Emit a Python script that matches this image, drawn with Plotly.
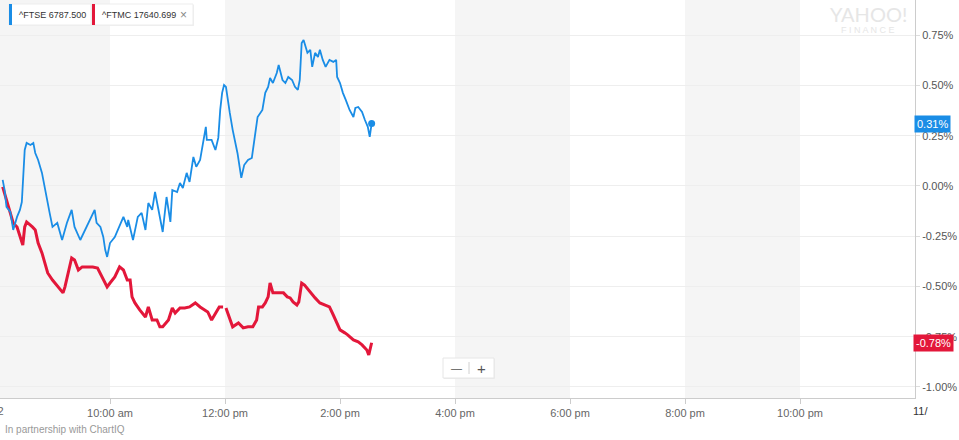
import plotly.graph_objects as go

DAY = "2019-11-22 "

ftse_times = ["08:08","08:10","08:12","08:16","08:19","08:21","08:23","08:26","08:28","08:31",
              "08:33","08:37","08:40","08:42","08:45","08:49","08:54","08:57","09:00","09:05",
              "09:10","09:15","09:20","09:23","09:29","09:34","09:39","09:44","09:46","09:50",
              "09:53","09:55","09:57","10:00","10:05","10:08","10:14","10:18","10:19","10:24",
              "10:29","10:33","10:37","10:40","10:44","10:47","10:50","10:55","10:59","11:03",
              "11:05","11:10","11:13","11:16","11:20","11:23","11:27","11:30","11:34","11:37",
              "11:40","11:41","11:46","11:50","11:53","11:55","11:57","11:59","12:01","12:05",
              "12:08","12:13","12:17","12:20","12:24","12:28","12:31","12:34","12:39","12:42",
              "12:45","12:47","12:50","12:54","12:56","13:00","13:03","13:06","13:10","13:13",
              "13:16","13:18","13:20","13:22","13:26","13:29","13:31","13:34","13:37","13:39",
              "13:42","13:45","13:49","13:53","13:56","13:57","14:00","14:03","14:06","14:10",
              "14:14","14:16","14:19","14:23","14:26","14:29","14:31","14:33"]
ftse_pct = [0.030,-0.020,-0.104,-0.129,-0.219,-0.179,-0.154,-0.119,-0.080,0.179,
            0.214,0.204,0.214,0.164,0.129,0.065,-0.070,-0.134,-0.204,-0.184,
            -0.269,-0.184,-0.119,-0.204,-0.269,-0.219,-0.169,-0.119,-0.184,-0.204,
            -0.254,-0.318,-0.353,-0.284,-0.254,-0.219,-0.154,-0.204,-0.169,-0.269,
            -0.154,-0.134,-0.219,-0.085,-0.119,-0.030,-0.104,-0.229,-0.055,-0.179,
            -0.020,-0.030,0.015,-0.010,0.065,0.020,0.144,0.095,0.129,0.214,
            0.294,0.229,0.229,0.179,0.239,0.378,0.463,0.502,0.493,0.363,
            0.279,0.164,0.040,0.104,0.129,0.139,0.229,0.343,0.378,0.463,
            0.493,0.537,0.512,0.562,0.602,0.527,0.512,0.542,0.527,0.493,
            0.478,0.527,0.711,0.726,0.662,0.677,0.592,0.662,0.642,0.677,
            0.627,0.592,0.627,0.617,0.627,0.542,0.512,0.463,0.428,0.378,
            0.343,0.388,0.393,0.368,0.328,0.294,0.244,0.31]

ftmc_times = ["08:08","08:12","08:16","08:19","08:23","08:26","08:29","08:31","08:33","08:39",
              "08:42","08:45","08:49","08:52","08:55","09:00","09:06","09:11","09:13","09:16",
              "09:20","09:23","09:27","09:31","09:36","09:42","09:47","09:52","09:57","10:00",
              "10:05","10:10","10:14","10:18","10:21","10:23","10:26","10:31","10:37","10:40",
              "10:44","10:49","10:52","10:55","11:01","11:05","11:08","11:13","11:18","11:23",
              "11:29","11:34","11:39","11:42","11:46","11:50","11:54","11:58","12:00","12:01",
              "12:05","12:08","12:14","12:19","12:24","12:29","12:33","12:35","12:39","12:42",
              "12:45","12:47","12:50","12:54","12:57","13:01","13:05","13:08","13:11","13:15",
              "13:17","13:20","13:23","13:27","13:31","13:34","13:39","13:44","13:49","13:53",
              "13:57","14:00","14:05","14:08","14:14","14:19","14:23","14:28","14:30","14:33"]
ftmc_pct = [-0.005,-0.070,-0.134,-0.184,-0.204,-0.254,-0.294,-0.204,-0.179,-0.204,
            -0.219,-0.284,-0.333,-0.383,-0.433,-0.468,-0.502,-0.532,-0.502,-0.433,
            -0.358,-0.368,-0.418,-0.403,-0.403,-0.403,-0.408,-0.453,-0.502,-0.483,
            -0.453,-0.403,-0.418,-0.468,-0.468,-0.552,-0.582,-0.617,-0.652,-0.602,
            -0.667,-0.667,-0.701,-0.701,-0.667,-0.607,-0.632,-0.607,-0.607,-0.602,
            -0.582,-0.602,-0.617,-0.627,-0.667,-0.632,-0.602,-0.602,None,-0.607,
            -0.667,-0.701,-0.682,-0.706,-0.701,-0.701,-0.667,-0.602,-0.602,-0.582,
            -0.552,-0.483,-0.532,-0.532,-0.532,-0.532,-0.552,-0.557,-0.577,-0.592,
            -0.577,-0.483,-0.493,-0.517,-0.542,-0.557,-0.582,-0.592,-0.602,-0.642,
            -0.682,-0.716,-0.731,-0.741,-0.766,-0.776,-0.791,-0.816,-0.841,-0.78]

x_tick_hours = ["10:00","12:00","14:00","16:00","18:00","20:00","22:00"]
x_tick_text = ["10:00 am","12:00 pm","2:00 pm","4:00 pm","6:00 pm","8:00 pm","10:00 pm"]
y_tick_vals = [0.75,0.5,0.25,0.0,-0.25,-0.5,-0.75,-1.0]
shade_bands = [("08:00","10:00"),("12:00","14:00"),("16:00","18:00"),("20:00","22:00")]

BLUE = "#1a8de6"
RED = "#e3173a"
FONT = "Helvetica Neue, Helvetica, Liberation Sans, Arial, sans-serif"

fig = go.Figure()
fig.add_trace(go.Scatter(x=[DAY + t for t in ftmc_times], y=ftmc_pct, mode="lines",
                         line=dict(color=RED, width=3), connectgaps=False, hoverinfo="skip"))
fig.add_trace(go.Scatter(x=[DAY + t for t in ftse_times], y=ftse_pct, mode="lines",
                         line=dict(color=BLUE, width=1.8), hoverinfo="skip"))
fig.add_trace(go.Scatter(x=[DAY + ftse_times[-1]], y=[ftse_pct[-1]], mode="markers",
                         marker=dict(color=BLUE, size=7), hoverinfo="skip"))

shapes = []
for a, b in shade_bands:
    shapes.append(dict(type="rect", xref="x", yref="paper", x0=DAY + a, x1=DAY + b, y0=0, y1=1,
                       fillcolor="#f5f5f5", line=dict(width=0), layer="below"))

W, H = 915.0, 398.0
def px(x): return x / W
def py(y): return (H - y) / H

# legend chips
shapes += [
    dict(type="rect", xref="paper", yref="paper", x0=px(10), x1=px(92), y0=py(26), y1=py(5),
         fillcolor="#efefef", line=dict(width=0)),
    dict(type="rect", xref="paper", yref="paper", x0=px(9), x1=px(91), y0=py(25), y1=py(4),
         fillcolor="white", line=dict(color="#ededed", width=1)),
    dict(type="rect", xref="paper", yref="paper", x0=px(9), x1=px(12), y0=py(25), y1=py(4),
         fillcolor=BLUE, line=dict(width=0)),
    dict(type="rect", xref="paper", yref="paper", x0=px(93), x1=px(194), y0=py(26), y1=py(5),
         fillcolor="#efefef", line=dict(width=0)),
    dict(type="rect", xref="paper", yref="paper", x0=px(92), x1=px(193), y0=py(25), y1=py(4),
         fillcolor="white", line=dict(color="#ededed", width=1)),
    dict(type="rect", xref="paper", yref="paper", x0=px(92), x1=px(95), y0=py(25), y1=py(4),
         fillcolor=RED, line=dict(width=0)),
    # zoom control
    dict(type="rect", xref="paper", yref="paper", x0=px(444), x1=px(495), y0=py(379), y1=py(359),
         fillcolor="#ececec", line=dict(width=0)),
    dict(type="rect", xref="paper", yref="paper", x0=px(443), x1=px(494), y0=py(378), y1=py(358),
         fillcolor="white", line=dict(color="#e6e6e6", width=1)),
    dict(type="line", xref="paper", yref="paper", x0=px(469), x1=px(469), y0=py(374), y1=py(362),
         line=dict(color="#d0d0d0", width=1)),
]

ann = [
    dict(xref="paper", yref="paper", x=px(17), y=py(14.5), text="^FTSE 6787.500", showarrow=False,
         xanchor="left", yanchor="middle", font=dict(size=9, color="#333", family=FONT)),
    dict(xref="paper", yref="paper", x=px(100), y=py(14.5), text="^FTMC 17640.699", showarrow=False,
         xanchor="left", yanchor="middle", font=dict(size=9, color="#333", family=FONT)),
    dict(xref="paper", yref="paper", x=px(183), y=py(14.5), text="×", showarrow=False,
         xanchor="center", yanchor="middle", font=dict(size=12, color="#888", family=FONT)),
    dict(xref="paper", yref="paper", x=px(868), y=py(14), text="YAHOO!", showarrow=False,
         xanchor="center", yanchor="middle", font=dict(size=20, color="#e6e6e6", family="DejaVu Sans ExtraLight, Lato, sans-serif")),
    dict(xref="paper", yref="paper", x=px(868), y=py(30), text="F I N A N C E", showarrow=False,
         xanchor="center", yanchor="middle", font=dict(size=9, color="#e6e6e6", family=FONT)),
    dict(xref="paper", yref="paper", x=px(456), y=py(368), text="—", showarrow=False,
         xanchor="center", yanchor="middle", font=dict(size=11, color="#555", family=FONT)),
    dict(xref="paper", yref="paper", x=px(482), y=py(368), text="+", showarrow=False,
         xanchor="center", yanchor="middle", font=dict(size=15, color="#555", family=FONT)),
    dict(xref="paper", yref="y", x=1, y=ftse_pct[-1], text="0.31%", showarrow=False,
         xanchor="left", yanchor="middle", xshift=-1, bgcolor=BLUE, borderpad=2,
         font=dict(size=11, color="white", family=FONT)),
    dict(xref="paper", yref="y", x=1, y=ftmc_pct[-1], text="-0.78%", showarrow=False,
         xanchor="left", yanchor="middle", xshift=-2, bgcolor=RED, borderpad=2,
         font=dict(size=11, color="white", family=FONT)),
    dict(xref="paper", yref="paper", x=0, y=py(411), text="11/22", showarrow=False,
         xanchor="right", yanchor="middle", xshift=6, font=dict(size=11, color="#666", family=FONT)),
    dict(xref="paper", yref="paper", x=px(911), y=py(411), text="11/", showarrow=False,
         xanchor="left", yanchor="middle", font=dict(size=11, color="#333", family=FONT)),
    dict(xref="paper", yref="paper", x=px(3), y=py(430), text="In partnership with ChartIQ", showarrow=False,
         xanchor="left", yanchor="middle", font=dict(size=10, color="#999", family=FONT)),
]

fig.update_layout(
    width=959, height=440,
    margin=dict(l=0, r=44, t=0, b=42),
    paper_bgcolor="white", plot_bgcolor="white",
    showlegend=False,
    shapes=shapes, annotations=ann,
    font=dict(family=FONT, size=11, color="#666"),
    xaxis=dict(type="date", range=[DAY + "08:05:13", DAY + "23:59:59"],
               tickvals=[DAY + h for h in x_tick_hours], ticktext=x_tick_text,
               showgrid=False, showline=True, linecolor="#cccccc", linewidth=1,
               ticks="outside", ticklen=5, tickcolor="#cccccc", zeroline=False,
               tickfont=dict(size=11, color="#666")),
    yaxis=dict(side="right", range=[-1.055, 0.925], tickvals=y_tick_vals,
               ticktext=[f"{v:.2f}%" for v in y_tick_vals],
               showgrid=True, gridcolor="#eeeeee", gridwidth=1,
               showline=True, linecolor="#cccccc", linewidth=1,
               ticks="outside", ticklen=4, tickcolor="#dddddd", zeroline=False,
               tickfont=dict(size=11, color="#555")),
)

fig.write_html("out.html")
